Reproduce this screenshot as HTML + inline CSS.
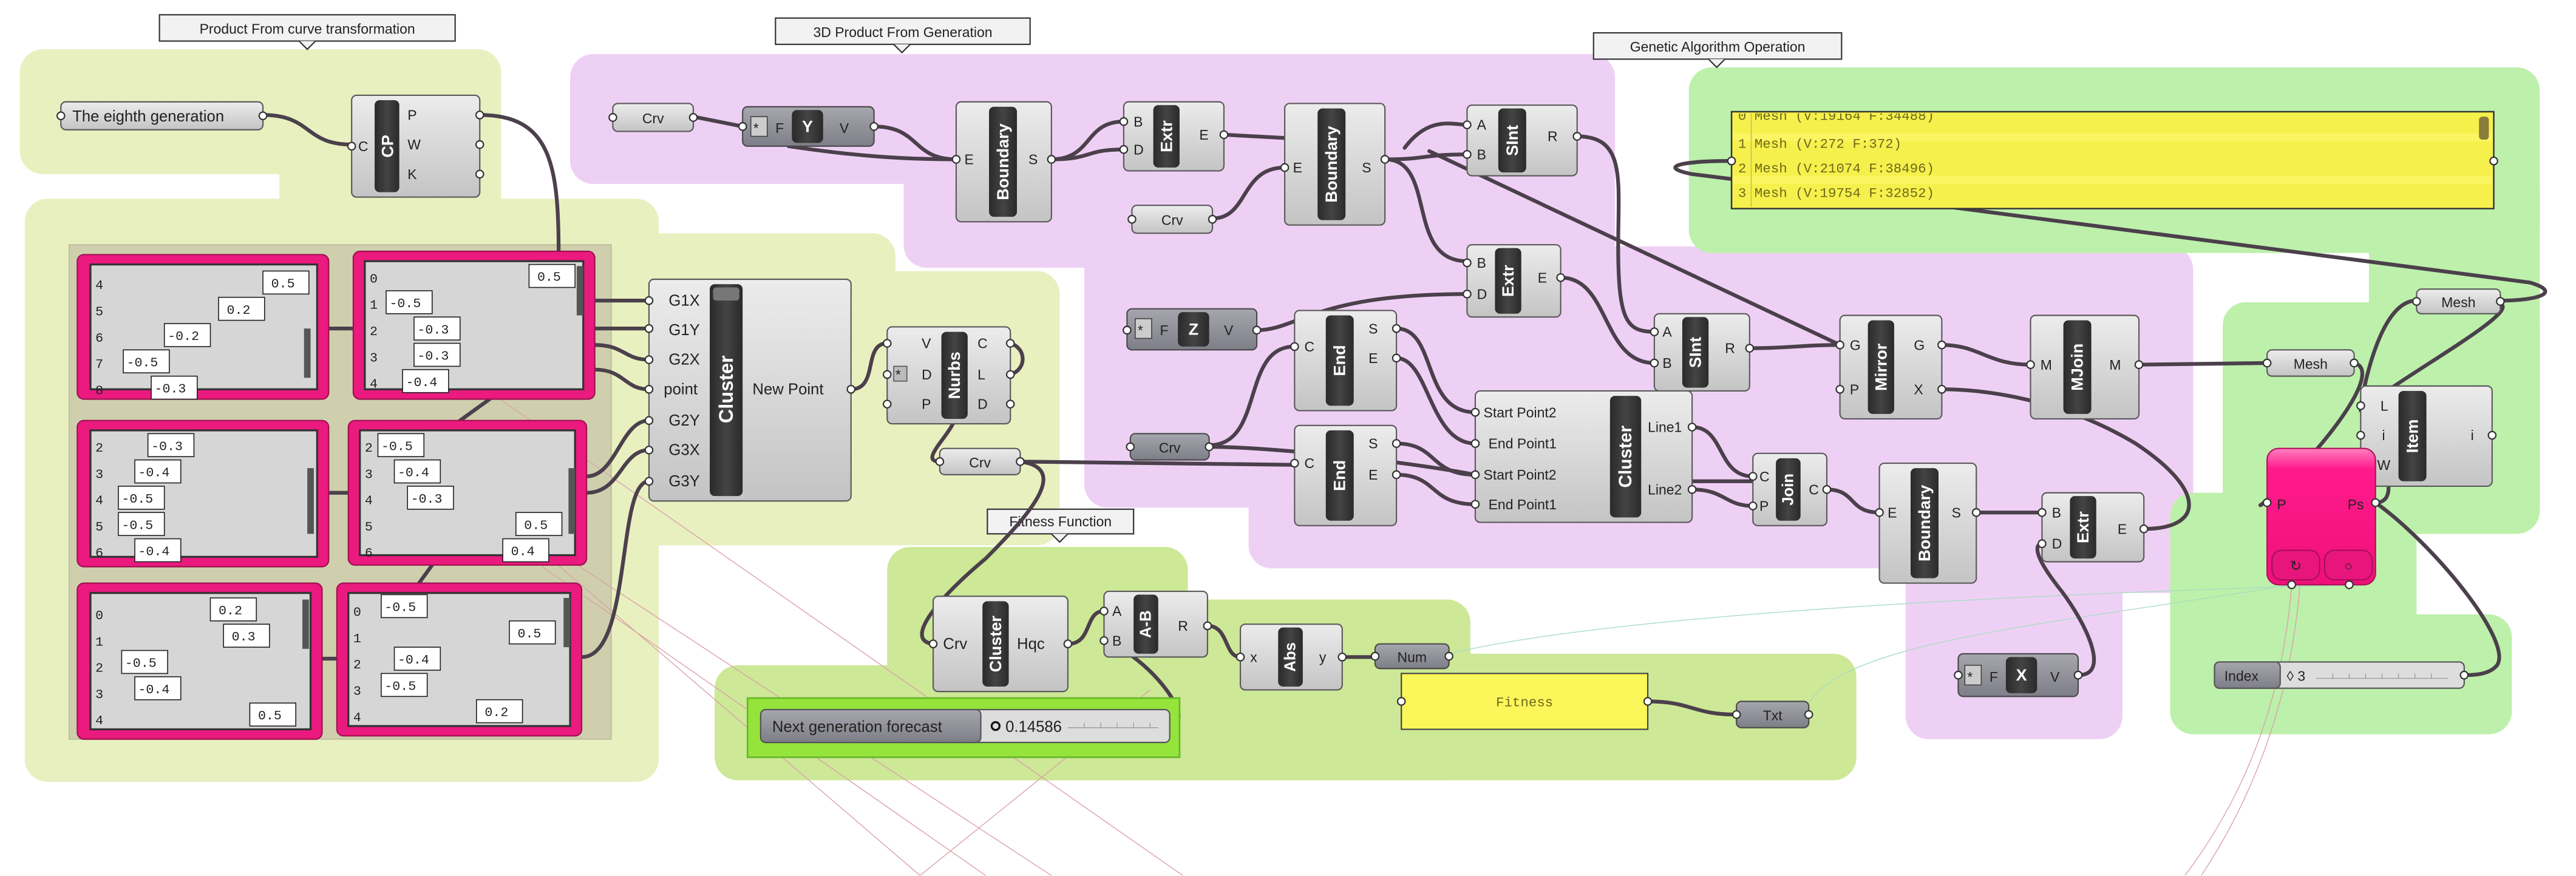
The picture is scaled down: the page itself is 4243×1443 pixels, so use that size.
<!DOCTYPE html>
<html><head><meta charset="utf-8"><style>
html,body{margin:0;padding:0;background:#fff;}
svg{display:block;}
.t{font-family:"Liberation Sans",sans-serif;font-size:8.5px;fill:#222;}
.tl{font-family:"Liberation Sans",sans-serif;font-size:9.5px;fill:#222;}
.bt{font-family:"Liberation Sans",sans-serif;font-weight:bold;fill:#fff;}
.m{font-family:"Liberation Mono",monospace;font-size:8px;fill:#222;}
.mm{font-family:"Liberation Mono",monospace;font-size:8.3px;fill:#6e6a1a;}
.n{fill:url(#gn);stroke:#5a5a5a;stroke-width:0.8;}
.d{fill:url(#gd);stroke:#4a4a4a;stroke-width:0.8;}
.bar{fill:url(#gb);}
.w{fill:none;stroke:#4b404b;stroke-width:2.3;stroke-linecap:round;}
.wi{fill:none;stroke:#a898a6;stroke-width:0.6;}
.p{fill:#fff;stroke:#333;stroke-width:0.8;}
.fr{fill:#ea1a7f;stroke:#a0104f;stroke-width:0.8;}
.in{fill:#d6d6d6;stroke:#333;stroke-width:1.2;}
.vb{fill:#fff;stroke:#222;stroke-width:0.6;}
.thin{fill:none;stroke:#d9a0a8;stroke-width:0.5;}
.thg{fill:none;stroke:#a8dcc0;stroke-width:0.5;}
</style></head><body>
<svg width="4243" height="1443" viewBox="0 0 1568 533.3" xmlns="http://www.w3.org/2000/svg">
<defs>
<linearGradient id="gn" x1="0" y1="0" x2="0" y2="1"><stop offset="0" stop-color="#ececec"/><stop offset="1" stop-color="#c4c4c4"/></linearGradient>
<linearGradient id="gd" x1="0" y1="0" x2="0" y2="1"><stop offset="0" stop-color="#a6a6ae"/><stop offset="1" stop-color="#7e7e88"/></linearGradient>
<linearGradient id="gb" x1="0" y1="0" x2="1" y2="0"><stop offset="0" stop-color="#2a2a2a"/><stop offset="0.5" stop-color="#444"/><stop offset="1" stop-color="#2a2a2a"/></linearGradient>
<linearGradient id="gp" x1="0" y1="0" x2="0" y2="1"><stop offset="0" stop-color="#ff7fc0"/><stop offset="0.15" stop-color="#ff1a8c"/><stop offset="1" stop-color="#f0107a"/></linearGradient>
</defs>

<!-- ===== GROUPS ===== -->
<g fill="#e8f0c0">
<rect x="12" y="30" width="293" height="76" rx="14"/>
<rect x="170" y="30" width="135" height="136" rx="14"/>
<rect x="15" y="121" width="386" height="355" rx="14"/>
<rect x="300" y="142" width="245" height="190" rx="14"/>
<rect x="300" y="165" width="345" height="167" rx="14"/>
</g>
<rect x="42" y="149" width="330" height="301" fill="#cfcfae" stroke="#b8b898" stroke-width="0.6"/>

<g fill="#efd0f5">
<rect x="347" y="33" width="636" height="79" rx="14"/>
<rect x="550" y="33" width="433" height="130" rx="14"/>
<rect x="660" y="150" width="675" height="159" rx="14"/>
<rect x="760" y="162" width="575" height="184" rx="14"/>
<rect x="1160" y="162" width="175" height="199" rx="14"/>
<rect x="1160" y="300" width="132" height="150" rx="14"/>
</g>

<g fill="#bdf0ab">
<rect x="1028" y="41" width="518" height="113" rx="14"/>
<rect x="1442" y="100" width="104" height="225" rx="14"/>
<rect x="1353" y="184" width="193" height="141" rx="14"/>
<rect x="1321" y="300" width="150" height="147" rx="14"/>
<rect x="1321" y="374" width="208" height="73" rx="14"/>
</g>

<g fill="#cde896">
<rect x="435" y="405" width="305" height="70" rx="14"/>
<rect x="540" y="333" width="183" height="142" rx="14"/>
<rect x="540" y="365" width="355" height="110" rx="14"/>
<rect x="540" y="398" width="590" height="77" rx="14"/>
</g>

<!-- group labels -->
<g>
<rect x="97" y="9" width="180" height="16" fill="#f2f2f2" stroke="#333" stroke-width="0.8"/>
<path d="M182,25 L187,30 L192,25" fill="#f2f2f2" stroke="#333" stroke-width="0.8"/>
<text x="187" y="20.5" text-anchor="middle" class="t">Product From curve transformation</text>
<rect x="472" y="11" width="155" height="16" fill="#f2f2f2" stroke="#333" stroke-width="0.8"/>
<path d="M544,27 L549,32 L554,27" fill="#f2f2f2" stroke="#333" stroke-width="0.8"/>
<text x="549.5" y="22.5" text-anchor="middle" class="t">3D Product From Generation</text>
<rect x="970" y="20" width="151" height="16" fill="#f2f2f2" stroke="#333" stroke-width="0.8"/>
<path d="M1040,36 L1045,41 L1050,36" fill="#f2f2f2" stroke="#333" stroke-width="0.8"/>
<text x="1045.5" y="31.5" text-anchor="middle" class="t">Genetic Algorithm Operation</text>
<rect x="601" y="310" width="89" height="15" fill="#f2f2f2" stroke="#333" stroke-width="0.8"/>
<path d="M640,325 L645,330 L650,325" fill="#f2f2f2" stroke="#333" stroke-width="0.8"/>
<text x="645.5" y="320.5" text-anchor="middle" class="t">Fitness Function</text>
</g>

<!-- thin background lines -->
<g>
<path class="thin" d="M300,240 L720,533"/>
<path class="thin" d="M330,330 L640,533"/>
<path class="thin" d="M330,345 L600,533"/>
<path class="thin" d="M300,310 L560,533"/>
<path class="thin" d="M700,420 L560,533"/>
<path class="thin" d="M1395,356 C1390,420 1370,480 1330,533"/>
<path class="thin" d="M1400,356 C1395,420 1375,480 1340,533"/>
<path class="thg" d="M1430,356 C1300,360 1000,370 882,398"/>
<path class="thg" d="M1395,356 C1250,380 1120,390 1100,430"/>
</g>

<!-- ===== WIRES ===== -->
<g class="w">
<path d="M160,70 C190,70 185,88 214,88"/>
<path d="M292,70 C335,70 340,100 340,154"/>
<path d="M200,200 L215,200"/>
<path d="M200,300 L212,300"/>
<path d="M196,401 L205,401"/>
<path d="M298,243 L280,256"/>
<path d="M263,344 L255,355"/>
<path d="M362,183 L395,183"/>
<path d="M362,200 L395,200"/>
<path d="M362,210 C380,210 380,219 395,219"/>
<path d="M362,225 C380,225 380,237 395,237"/>
<path d="M357,290 C375,290 378,256 395,256"/>
<path d="M357,300 C378,300 378,274 395,274"/>
<path d="M354,400 C385,400 375,293 395,293"/>
<path d="M518,237 C535,237 525,209 540,209"/>
<path d="M615,209 C625,212 625,225 615,228"/>
<path d="M580,258 C575,268 560,281 572,281"/>
<path d="M621,281 L788,283"/>
<path d="M621,281 C650,285 630,310 600,340 C570,365 550,390 568,392"/>
<path d="M650,392 C665,392 660,372 672,372"/>
<path d="M712,442 C730,440 700,400 672,390"/>
<path d="M735,381 C748,381 745,400 755,400"/>
<path d="M817,400 L837,400"/>
<path d="M1003,427 C1030,427 1030,435 1057,435"/>
<path d="M422,71 L452,77"/>
<path d="M532,77 C560,77 555,97 582,97"/>
<path d="M480,89 C520,95 550,97 582,97"/>
<path d="M640,97 C665,97 660,74 684,74"/>
<path d="M640,97 C665,97 660,91 684,91"/>
<path d="M745,82 L782,84"/>
<path d="M738,133 C760,133 755,102 782,102"/>
<path d="M843,97 C870,97 865,94 893,94"/>
<path d="M843,97 C875,97 855,159 893,159"/>
<path d="M855,90 C870,70 885,76 893,76"/>
<path d="M870,92 L1120,210"/>
<path d="M960,83 C990,83 985,110 985,150 C985,195 990,202 1007,202"/>
<path d="M950,169 C980,169 975,221 1007,221"/>
<path d="M765,201 C790,201 800,179 893,179"/>
<path d="M736,271 C770,271 755,211 788,211"/>
<path d="M736,272 C770,272 850,280 898,289"/>
<path d="M850,200 C875,200 865,251 898,251"/>
<path d="M850,218 C870,218 870,270 898,270"/>
<path d="M850,270 C875,270 870,289 898,289"/>
<path d="M850,289 C875,289 870,307 898,307"/>
<path d="M1030,260 C1050,260 1045,290 1067,290"/>
<path d="M1030,298 C1050,298 1050,308 1067,308"/>
<path d="M1030,293 L1067,293"/>
<path d="M1112,298 C1130,298 1125,312 1144,312"/>
<path d="M1203,312 C1225,312 1220,312 1243,312"/>
<path d="M1265,411 C1285,411 1270,380 1255,360 C1235,335 1240,331 1243,331"/>
<path d="M1305,322 C1340,322 1345,300 1300,270 C1250,240 1200,237 1182,237"/>
<path d="M1065,212 C1090,212 1095,210 1120,210"/>
<path d="M1182,210 C1205,210 1210,222 1236,222"/>
<path d="M1302,222 L1380,221"/>
<path d="M1054,98 C1020,98 1010,102 1030,106 L1110,116 L1540,172 C1560,178 1545,183 1522,183"/>
<path d="M1471,183 C1450,183 1440,230 1437,247"/>
<path d="M1522,185 C1535,190 1460,230 1437,250"/>
<path d="M1433,221 C1450,225 1420,265 1395,290 C1370,315 1375,306 1380,306"/>
<path d="M1446,306 C1465,306 1445,265 1437,265"/>
<path d="M1446,306 C1480,330 1530,390 1520,405 C1515,411 1505,411 1500,411"/>
</g>

<!-- ===== NODES ===== -->
<!-- eighth generation panel -->
<rect x="37" y="62" width="123" height="17" rx="3" class="n"/>
<text x="44" y="74" class="tl">The eighth generation</text>
<circle cx="37" cy="70.5" r="2.3" class="p"/><circle cx="160" cy="70.5" r="2.3" class="p"/>

<!-- CP -->
<rect x="214" y="58" width="78" height="62" rx="3" class="n"/>
<rect x="228" y="61" width="15" height="56" rx="3" class="bar"/>
<text transform="translate(236,89) rotate(-90)" text-anchor="middle" dominant-baseline="central" class="bt" font-size="10">CP</text>
<text x="218" y="92" class="t">C</text>
<text x="248" y="73" class="t">P</text><text x="248" y="91" class="t">W</text><text x="248" y="109" class="t">K</text>
<circle cx="214" cy="89" r="2.3" class="p"/><circle cx="292" cy="70" r="2.3" class="p"/><circle cx="292" cy="88" r="2.3" class="p"/><circle cx="292" cy="106" r="2.3" class="p"/>

<!-- list panels -->
<g>
<rect x="47" y="155" width="153" height="88" rx="4" class="fr"/><rect x="55" y="161" width="138" height="76" class="in"/>
<rect x="185" y="200" width="4" height="30" fill="#555"/>
<text x="58" y="176" class="m">4</text><text x="58" y="192" class="m">5</text><text x="58" y="208" class="m">6</text><text x="58" y="224" class="m">7</text><text x="58" y="240" class="m">8</text>
<rect x="160" y="165" width="28" height="14" class="vb"/><text x="165" y="175" class="m">0.5</text>
<rect x="133" y="181" width="28" height="14" class="vb"/><text x="138" y="191" class="m">0.2</text>
<rect x="100" y="197" width="28" height="14" class="vb"/><text x="102" y="207" class="m">-0.2</text>
<rect x="75" y="213" width="28" height="14" class="vb"/><text x="77" y="223" class="m">-0.5</text>
<rect x="92" y="229" width="28" height="14" class="vb"/><text x="94" y="239" class="m">-0.3</text>

<rect x="215" y="153" width="147" height="90" rx="4" class="fr"/><rect x="222" y="159" width="133" height="78" class="in"/>
<rect x="351" y="162" width="4" height="30" fill="#555"/>
<text x="225" y="172" class="m">0</text><text x="225" y="188" class="m">1</text><text x="225" y="204" class="m">2</text><text x="225" y="220" class="m">3</text><text x="225" y="236" class="m">4</text>
<rect x="322" y="161" width="28" height="14" class="vb"/><text x="327" y="171" class="m">0.5</text>
<rect x="235" y="177" width="28" height="14" class="vb"/><text x="237" y="187" class="m">-0.5</text>
<rect x="252" y="193" width="28" height="14" class="vb"/><text x="254" y="203" class="m">-0.3</text>
<rect x="252" y="209" width="28" height="14" class="vb"/><text x="254" y="219" class="m">-0.3</text>
<rect x="245" y="225" width="28" height="14" class="vb"/><text x="247" y="235" class="m">-0.4</text>

<rect x="47" y="256" width="153" height="89" rx="4" class="fr"/><rect x="55" y="262" width="138" height="77" class="in"/>
<rect x="187" y="285" width="4" height="40" fill="#555"/>
<text x="58" y="275" class="m">2</text><text x="58" y="291" class="m">3</text><text x="58" y="307" class="m">4</text><text x="58" y="323" class="m">5</text><text x="58" y="339" class="m">6</text>
<rect x="90" y="264" width="28" height="14" class="vb"/><text x="92" y="274" class="m">-0.3</text>
<rect x="82" y="280" width="28" height="14" class="vb"/><text x="84" y="290" class="m">-0.4</text>
<rect x="72" y="296" width="28" height="14" class="vb"/><text x="74" y="306" class="m">-0.5</text>
<rect x="72" y="312" width="28" height="14" class="vb"/><text x="74" y="322" class="m">-0.5</text>
<rect x="82" y="328" width="28" height="14" class="vb"/><text x="84" y="338" class="m">-0.4</text>

<rect x="212" y="256" width="145" height="88" rx="4" class="fr"/><rect x="219" y="262" width="131" height="76" class="in"/>
<rect x="346" y="285" width="4" height="40" fill="#555"/>
<text x="222" y="275" class="m">2</text><text x="222" y="291" class="m">3</text><text x="222" y="307" class="m">4</text><text x="222" y="323" class="m">5</text><text x="222" y="339" class="m">6</text>
<rect x="230" y="264" width="28" height="14" class="vb"/><text x="232" y="274" class="m">-0.5</text>
<rect x="240" y="280" width="28" height="14" class="vb"/><text x="242" y="290" class="m">-0.4</text>
<rect x="248" y="296" width="28" height="14" class="vb"/><text x="250" y="306" class="m">-0.3</text>
<rect x="314" y="312" width="28" height="14" class="vb"/><text x="319" y="322" class="m">0.5</text>
<rect x="306" y="328" width="28" height="14" class="vb"/><text x="311" y="338" class="m">0.4</text>

<rect x="47" y="355" width="149" height="95" rx="4" class="fr"/><rect x="55" y="361" width="134" height="83" class="in"/>
<rect x="184" y="365" width="4" height="30" fill="#555"/>
<text x="58" y="377" class="m">0</text><text x="58" y="393" class="m">1</text><text x="58" y="409" class="m">2</text><text x="58" y="425" class="m">3</text><text x="58" y="441" class="m">4</text>
<rect x="128" y="364" width="28" height="14" class="vb"/><text x="133" y="374" class="m">0.2</text>
<rect x="136" y="380" width="28" height="14" class="vb"/><text x="141" y="390" class="m">0.3</text>
<rect x="74" y="396" width="28" height="14" class="vb"/><text x="76" y="406" class="m">-0.5</text>
<rect x="82" y="412" width="28" height="14" class="vb"/><text x="84" y="422" class="m">-0.4</text>
<rect x="152" y="428" width="28" height="14" class="vb"/><text x="157" y="438" class="m">0.5</text>

<rect x="205" y="355" width="149" height="93" rx="4" class="fr"/><rect x="212" y="361" width="135" height="81" class="in"/>
<rect x="343" y="364" width="4" height="30" fill="#555"/>
<text x="215" y="375" class="m">0</text><text x="215" y="391" class="m">1</text><text x="215" y="407" class="m">2</text><text x="215" y="423" class="m">3</text><text x="215" y="439" class="m">4</text>
<rect x="232" y="362" width="28" height="14" class="vb"/><text x="234" y="372" class="m">-0.5</text>
<rect x="310" y="378" width="28" height="14" class="vb"/><text x="315" y="388" class="m">0.5</text>
<rect x="240" y="394" width="28" height="14" class="vb"/><text x="242" y="404" class="m">-0.4</text>
<rect x="232" y="410" width="28" height="14" class="vb"/><text x="234" y="420" class="m">-0.5</text>
<rect x="290" y="426" width="28" height="14" class="vb"/><text x="295" y="436" class="m">0.2</text>
</g>

<!-- Cluster 1 -->
<rect x="395" y="170" width="123" height="135" rx="3" class="n"/>
<rect x="432" y="173" width="20" height="129" rx="3" class="bar"/>
<rect x="434" y="175" width="16" height="8" rx="2" fill="#777"/>
<text transform="translate(442,237) rotate(-90)" text-anchor="middle" dominant-baseline="central" class="bt" font-size="12">Cluster</text>
<g class="tl"><text x="407" y="186">G1X</text><text x="407" y="204">G1Y</text><text x="407" y="222">G2X</text><text x="404" y="240">point</text><text x="407" y="259">G2Y</text><text x="407" y="277">G3X</text><text x="407" y="296">G3Y</text><text x="458" y="240">New Point</text></g>
<g><circle cx="395" cy="183" r="2.3" class="p"/><circle cx="395" cy="200" r="2.3" class="p"/><circle cx="395" cy="219" r="2.3" class="p"/><circle cx="395" cy="237" r="2.3" class="p"/><circle cx="395" cy="256" r="2.3" class="p"/><circle cx="395" cy="274" r="2.3" class="p"/><circle cx="395" cy="293" r="2.3" class="p"/><circle cx="518" cy="237" r="2.3" class="p"/></g>

<!-- Nurbs -->
<rect x="540" y="199" width="75" height="59" rx="3" class="n"/>
<rect x="573" y="202" width="16" height="53" rx="3" class="bar"/>
<text transform="translate(581,228.5) rotate(-90)" text-anchor="middle" dominant-baseline="central" class="bt" font-size="10">Nurbs</text>
<rect x="544" y="223" width="8" height="9" fill="#bbb" stroke="#555" stroke-width="0.6"/><text x="545" y="231" class="t" font-size="8">*</text>
<g class="t"><text x="561" y="212">V</text><text x="561" y="231">D</text><text x="561" y="249">P</text><text x="595" y="212">C</text><text x="595" y="231">L</text><text x="595" y="249">D</text></g>
<circle cx="540" cy="209" r="2.3" class="p"/><circle cx="540" cy="228" r="2.3" class="p"/><circle cx="540" cy="246" r="2.3" class="p"/><circle cx="615" cy="209" r="2.3" class="p"/><circle cx="615" cy="228" r="2.3" class="p"/><circle cx="615" cy="246" r="2.3" class="p"/>

<!-- Crv params -->
<rect x="572" y="273" width="49" height="16" rx="3" class="n"/><text x="596.5" y="284.5" text-anchor="middle" class="t">Crv</text>
<circle cx="572" cy="281" r="2.3" class="p"/><circle cx="621" cy="281" r="2.3" class="p"/>
<rect x="373" y="63" width="49" height="17" rx="3" class="n"/><text x="397.5" y="75" text-anchor="middle" class="t">Crv</text>
<circle cx="373" cy="71.5" r="2.3" class="p"/><circle cx="422" cy="71.5" r="2.3" class="p"/>
<rect x="689" y="125" width="49" height="17" rx="3" class="n"/><text x="713.5" y="137" text-anchor="middle" class="t">Crv</text>
<circle cx="689" cy="133.5" r="2.3" class="p"/><circle cx="738" cy="133.5" r="2.3" class="p"/>
<rect x="688" y="264" width="48" height="16" rx="3" class="d"/><text x="712" y="275.5" text-anchor="middle" class="t">Crv</text>
<circle cx="688" cy="272" r="2.3" class="p"/><circle cx="736" cy="272" r="2.3" class="p"/>

<!-- F Y V -->
<rect x="452" y="65" width="80" height="24" rx="3" class="d"/>
<rect x="457" y="71" width="10" height="12" fill="#ccc" stroke="#444" stroke-width="0.6"/><text x="458.5" y="81" class="t">*</text>
<text x="472" y="81" class="t">F</text><rect x="482" y="67" width="19" height="20" rx="3" class="bar"/><text x="491.5" y="77" text-anchor="middle" dominant-baseline="central" class="bt" font-size="10">Y</text>
<text x="511" y="81" class="t">V</text>
<circle cx="452" cy="77" r="2.3" class="p"/><circle cx="532" cy="77" r="2.3" class="p"/>

<!-- Boundary 1 -->
<rect x="582" y="62" width="58" height="73" rx="3" class="n"/>
<rect x="602" y="65" width="17" height="67" rx="3" class="bar"/>
<text transform="translate(610.5,98.5) rotate(-90)" text-anchor="middle" dominant-baseline="central" class="bt" font-size="10">Boundary</text>
<text x="587" y="100" class="t">E</text><text x="626" y="100" class="t">S</text>
<circle cx="582" cy="97" r="2.3" class="p"/><circle cx="640" cy="97" r="2.3" class="p"/>

<!-- Extr 1 -->
<rect x="684" y="62" width="61" height="42" rx="3" class="n"/>
<rect x="702" y="64" width="16" height="38" rx="3" class="bar"/>
<text transform="translate(710,83) rotate(-90)" text-anchor="middle" dominant-baseline="central" class="bt" font-size="10">Extr</text>
<text x="690" y="77" class="t">B</text><text x="690" y="94" class="t">D</text><text x="730" y="85" class="t">E</text>
<circle cx="684" cy="74" r="2.3" class="p"/><circle cx="684" cy="91" r="2.3" class="p"/><circle cx="745" cy="82" r="2.3" class="p"/>

<!-- Boundary 2 -->
<rect x="782" y="63" width="61" height="74" rx="3" class="n"/>
<rect x="802" y="66" width="17" height="68" rx="3" class="bar"/>
<text transform="translate(810.5,100) rotate(-90)" text-anchor="middle" dominant-baseline="central" class="bt" font-size="10">Boundary</text>
<text x="787" y="105" class="t">E</text><text x="829" y="105" class="t">S</text>
<circle cx="782" cy="102" r="2.3" class="p"/><circle cx="843" cy="97" r="2.3" class="p"/>

<!-- SInt 1 -->
<rect x="893" y="64" width="67" height="43" rx="3" class="n"/>
<rect x="912" y="66" width="17" height="39" rx="3" class="bar"/>
<text transform="translate(920.5,85.5) rotate(-90)" text-anchor="middle" dominant-baseline="central" class="bt" font-size="10">SInt</text>
<text x="899" y="79" class="t">A</text><text x="899" y="97" class="t">B</text><text x="942" y="86" class="t">R</text>
<circle cx="893" cy="76" r="2.3" class="p"/><circle cx="893" cy="94" r="2.3" class="p"/><circle cx="960" cy="83" r="2.3" class="p"/>

<!-- Extr 2 -->
<rect x="893" y="149" width="57" height="44" rx="3" class="n"/>
<rect x="910" y="151" width="16" height="40" rx="3" class="bar"/>
<text transform="translate(918,171) rotate(-90)" text-anchor="middle" dominant-baseline="central" class="bt" font-size="10">Extr</text>
<text x="899" y="163" class="t">B</text><text x="899" y="182" class="t">D</text><text x="936" y="172" class="t">E</text>
<circle cx="893" cy="160" r="2.3" class="p"/><circle cx="893" cy="179" r="2.3" class="p"/><circle cx="950" cy="169" r="2.3" class="p"/>

<!-- F Z V -->
<rect x="686" y="188" width="79" height="25" rx="3" class="d"/>
<rect x="691" y="194" width="10" height="12" fill="#ccc" stroke="#444" stroke-width="0.6"/><text x="692.5" y="204" class="t">*</text>
<text x="706" y="204" class="t">F</text><rect x="717" y="190" width="19" height="21" rx="3" class="bar"/><text x="726.5" y="200.5" text-anchor="middle" dominant-baseline="central" class="bt" font-size="10">Z</text>
<text x="745" y="204" class="t">V</text>
<circle cx="686" cy="201" r="2.3" class="p"/><circle cx="765" cy="201" r="2.3" class="p"/>

<!-- End 1 / End 2 -->
<rect x="788" y="189" width="62" height="61" rx="3" class="n"/>
<rect x="807" y="192" width="17" height="55" rx="3" class="bar"/>
<text transform="translate(815.5,219.5) rotate(-90)" text-anchor="middle" dominant-baseline="central" class="bt" font-size="10">End</text>
<text x="794" y="214" class="t">C</text><text x="833" y="203" class="t">S</text><text x="833" y="221" class="t">E</text>
<circle cx="788" cy="211" r="2.3" class="p"/><circle cx="850" cy="200" r="2.3" class="p"/><circle cx="850" cy="218" r="2.3" class="p"/>
<rect x="788" y="259" width="62" height="61" rx="3" class="n"/>
<rect x="807" y="262" width="17" height="55" rx="3" class="bar"/>
<text transform="translate(815.5,289.5) rotate(-90)" text-anchor="middle" dominant-baseline="central" class="bt" font-size="10">End</text>
<text x="794" y="285" class="t">C</text><text x="833" y="273" class="t">S</text><text x="833" y="292" class="t">E</text>
<circle cx="788" cy="282" r="2.3" class="p"/><circle cx="850" cy="270" r="2.3" class="p"/><circle cx="850" cy="289" r="2.3" class="p"/>

<!-- Cluster 2 -->
<rect x="898" y="238" width="132" height="80" rx="3" class="n"/>
<rect x="980" y="241" width="19" height="74" rx="3" class="bar"/>
<text transform="translate(989.5,278) rotate(-90)" text-anchor="middle" dominant-baseline="central" class="bt" font-size="11">Cluster</text>
<g class="t" font-size="9"><text x="903" y="254">Start Point2</text><text x="906" y="273">End Point1</text><text x="903" y="292">Start Point2</text><text x="906" y="310">End Point1</text><text x="1003" y="263">Line1</text><text x="1003" y="301">Line2</text></g>
<circle cx="898" cy="251" r="2.3" class="p"/><circle cx="898" cy="270" r="2.3" class="p"/><circle cx="898" cy="289" r="2.3" class="p"/><circle cx="898" cy="307" r="2.3" class="p"/><circle cx="1030" cy="260" r="2.3" class="p"/><circle cx="1030" cy="298" r="2.3" class="p"/>

<!-- SInt 2 -->
<rect x="1007" y="191" width="58" height="47" rx="3" class="n"/>
<rect x="1024" y="193" width="16" height="43" rx="3" class="bar"/>
<text transform="translate(1032,214.5) rotate(-90)" text-anchor="middle" dominant-baseline="central" class="bt" font-size="10">SInt</text>
<text x="1012" y="205" class="t">A</text><text x="1012" y="224" class="t">B</text><text x="1050" y="215" class="t">R</text>
<circle cx="1007" cy="202" r="2.3" class="p"/><circle cx="1007" cy="221" r="2.3" class="p"/><circle cx="1065" cy="212" r="2.3" class="p"/>

<!-- Mirror -->
<rect x="1120" y="192" width="62" height="63" rx="3" class="n"/>
<rect x="1137" y="195" width="16" height="57" rx="3" class="bar"/>
<text transform="translate(1145,223.5) rotate(-90)" text-anchor="middle" dominant-baseline="central" class="bt" font-size="10">Mirror</text>
<text x="1126" y="213" class="t">G</text><text x="1126" y="240" class="t">P</text><text x="1165" y="213" class="t">G</text><text x="1165" y="240" class="t">X</text>
<circle cx="1120" cy="210" r="2.3" class="p"/><circle cx="1120" cy="237" r="2.3" class="p"/><circle cx="1182" cy="210" r="2.3" class="p"/><circle cx="1182" cy="237" r="2.3" class="p"/>

<!-- MJoin -->
<rect x="1236" y="192" width="66" height="63" rx="3" class="n"/>
<rect x="1256" y="195" width="17" height="57" rx="3" class="bar"/>
<text transform="translate(1264.5,223.5) rotate(-90)" text-anchor="middle" dominant-baseline="central" class="bt" font-size="10">MJoin</text>
<text x="1242" y="225" class="t">M</text><text x="1284" y="225" class="t">M</text>
<circle cx="1236" cy="222" r="2.3" class="p"/><circle cx="1302" cy="222" r="2.3" class="p"/>

<!-- Join -->
<rect x="1067" y="276" width="45" height="44" rx="3" class="n"/>
<rect x="1081" y="279" width="15" height="38" rx="3" class="bar"/>
<text transform="translate(1088.5,298) rotate(-90)" text-anchor="middle" dominant-baseline="central" class="bt" font-size="9.5">Join</text>
<text x="1071" y="293" class="t">C</text><text x="1071" y="311" class="t">P</text><text x="1101" y="301" class="t">C</text>
<circle cx="1067" cy="290" r="2.3" class="p"/><circle cx="1067" cy="308" r="2.3" class="p"/><circle cx="1112" cy="298" r="2.3" class="p"/>

<!-- Boundary 3 -->
<rect x="1144" y="282" width="59" height="73" rx="3" class="n"/>
<rect x="1163" y="285" width="17" height="67" rx="3" class="bar"/>
<text transform="translate(1171.5,318.5) rotate(-90)" text-anchor="middle" dominant-baseline="central" class="bt" font-size="10">Boundary</text>
<text x="1149" y="315" class="t">E</text><text x="1188" y="315" class="t">S</text>
<circle cx="1144" cy="312" r="2.3" class="p"/><circle cx="1203" cy="312" r="2.3" class="p"/>

<!-- Extr 3 -->
<rect x="1243" y="300" width="62" height="42" rx="3" class="n"/>
<rect x="1260" y="302" width="16" height="38" rx="3" class="bar"/>
<text transform="translate(1268,321) rotate(-90)" text-anchor="middle" dominant-baseline="central" class="bt" font-size="10">Extr</text>
<text x="1249" y="315" class="t">B</text><text x="1249" y="334" class="t">D</text><text x="1289" y="325" class="t">E</text>
<circle cx="1243" cy="312" r="2.3" class="p"/><circle cx="1243" cy="331" r="2.3" class="p"/><circle cx="1305" cy="322" r="2.3" class="p"/>

<!-- F X V -->
<rect x="1192" y="398" width="73" height="26" rx="3" class="d"/>
<rect x="1196" y="405" width="10" height="12" fill="#ccc" stroke="#444" stroke-width="0.6"/><text x="1197.5" y="415" class="t">*</text>
<text x="1211" y="415" class="t">F</text><rect x="1221" y="400" width="19" height="22" rx="3" class="bar"/><text x="1230.5" y="411" text-anchor="middle" dominant-baseline="central" class="bt" font-size="10">X</text>
<text x="1248" y="415" class="t">V</text>
<circle cx="1192" cy="411" r="2.3" class="p"/><circle cx="1265" cy="411" r="2.3" class="p"/>

<!-- Fitness cluster -->
<rect x="568" y="363" width="82" height="58" rx="3" class="n"/>
<rect x="598" y="366" width="16" height="52" rx="3" class="bar"/>
<text transform="translate(606,392) rotate(-90)" text-anchor="middle" dominant-baseline="central" class="bt" font-size="10">Cluster</text>
<text x="574" y="395" class="tl">Crv</text><text x="619" y="395" class="tl">Hqc</text>
<circle cx="568" cy="392" r="2.3" class="p"/><circle cx="650" cy="392" r="2.3" class="p"/>

<!-- A-B -->
<rect x="672" y="360" width="63" height="40" rx="3" class="n"/>
<rect x="690" y="362" width="15" height="36" rx="3" class="bar"/>
<text transform="translate(697.5,380) rotate(-90)" text-anchor="middle" dominant-baseline="central" class="bt" font-size="9.5">A-B</text>
<text x="677" y="375" class="t">A</text><text x="677" y="393" class="t">B</text><text x="717" y="384" class="t">R</text>
<circle cx="672" cy="372" r="2.3" class="p"/><circle cx="672" cy="390" r="2.3" class="p"/><circle cx="735" cy="381" r="2.3" class="p"/>

<!-- Abs -->
<rect x="755" y="380" width="62" height="40" rx="3" class="n"/>
<rect x="778" y="382" width="15" height="36" rx="3" class="bar"/>
<text transform="translate(785.5,400) rotate(-90)" text-anchor="middle" dominant-baseline="central" class="bt" font-size="9.5">Abs</text>
<text x="761" y="403" class="t">x</text><text x="803" y="403" class="t">y</text>
<circle cx="755" cy="400" r="2.3" class="p"/><circle cx="817" cy="400" r="2.3" class="p"/>

<!-- Num -->
<rect x="837" y="392" width="45" height="15" rx="3" class="d"/><text x="859.5" y="403" text-anchor="middle" class="t">Num</text>
<circle cx="837" cy="399.5" r="2.3" class="p"/><circle cx="882" cy="399.5" r="2.3" class="p"/>

<!-- Fitness panel -->
<rect x="853" y="410" width="150" height="34" fill="#fbf65a" stroke="#444" stroke-width="0.8"/>
<text x="928" y="430" text-anchor="middle" class="mm">Fitness</text>
<circle cx="853" cy="427" r="2.3" class="p"/><circle cx="1003" cy="427" r="2.3" class="p"/>

<!-- Txt -->
<rect x="1057" y="427" width="44" height="16" rx="3" class="d"/><text x="1079" y="438.5" text-anchor="middle" class="t">Txt</text>
<circle cx="1057" cy="435" r="2.3" class="p"/><circle cx="1101" cy="435" r="2.3" class="p"/>

<!-- Slider -->
<rect x="455" y="425" width="263" height="36" fill="#94e43c" stroke="#68b82a" stroke-width="1"/>
<rect x="463" y="432" width="249" height="20" rx="3" fill="#ddd" stroke="#555" stroke-width="0.8"/>
<rect x="463" y="432" width="134" height="20" rx="3" fill="url(#gd)" stroke="#555" stroke-width="0.8"/>
<text x="470" y="445.5" class="tl">Next generation forecast</text>
<circle cx="606" cy="442" r="2.4" fill="none" stroke="#111" stroke-width="1.2"/>
<text x="612" y="445.5" class="tl">0.14586</text>
<path d="M650,443 L705,443 M660,440v3 M670,440v3 M680,440v3 M690,440v3 M700,440v3" stroke="#999" stroke-width="0.5"/>

<!-- Mesh list -->
<rect x="1054" y="68" width="464" height="59" fill="#f6f04c" stroke="#333" stroke-width="0.9"/>
<rect x="1055" y="81" width="462" height="5" fill="#fff870" opacity="0.6"/>
<rect x="1055" y="107" width="462" height="5" fill="#fff870" opacity="0.6"/>
<line x1="1066" y1="69" x2="1066" y2="126" stroke="#c8c050" stroke-width="0.6"/>
<rect x="1509" y="71" width="6" height="14" rx="2" fill="#8a7d3a"/>
<clipPath id="cl"><rect x="1055" y="69" width="460" height="57"/></clipPath>
<g clip-path="url(#cl)" class="mm">
<text x="1058" y="73">0 Mesh (V:19164  F:34488)</text>
<text x="1058" y="90">1 Mesh (V:272   F:372)</text>
<text x="1058" y="105">2 Mesh (V:21074  F:38496)</text>
<text x="1058" y="120">3 Mesh (V:19754  F:32852)</text>
</g>
<circle cx="1054" cy="98" r="2.3" class="p"/><circle cx="1518" cy="98" r="2.3" class="p"/>

<!-- Mesh params -->
<rect x="1471" y="176" width="51" height="15" rx="3" class="n"/><text x="1496.5" y="187" text-anchor="middle" class="t">Mesh</text>
<circle cx="1471" cy="183.5" r="2.3" class="p"/><circle cx="1522" cy="183.5" r="2.3" class="p"/>
<rect x="1380" y="213" width="53" height="16" rx="3" class="n"/><text x="1406.5" y="224.5" text-anchor="middle" class="t">Mesh</text>
<circle cx="1380" cy="221" r="2.3" class="p"/><circle cx="1433" cy="221" r="2.3" class="p"/>

<!-- Item -->
<rect x="1437" y="235" width="80" height="61" rx="3" class="n"/>
<rect x="1460" y="238" width="17" height="55" rx="3" class="bar"/>
<text transform="translate(1468.5,265.5) rotate(-90)" text-anchor="middle" dominant-baseline="central" class="bt" font-size="10">Item</text>
<text x="1449" y="250" class="t">L</text><text x="1450" y="268" class="t">i</text><text x="1447" y="286" class="t">W</text><text x="1504" y="268" class="t">i</text>
<circle cx="1437" cy="247" r="2.3" class="p"/><circle cx="1437" cy="265" r="2.3" class="p"/><circle cx="1437" cy="283" r="2.3" class="p"/><circle cx="1517" cy="265" r="2.3" class="p"/>

<!-- Galapagos -->
<rect x="1380" y="273" width="66" height="83" rx="7" fill="url(#gp)" stroke="#b0105a" stroke-width="0.8"/>
<text x="1386" y="310" class="t">P</text><text x="1429" y="310" class="t">Ps</text>
<rect x="1383" y="335" width="29" height="18" rx="6" fill="#e8157c" stroke="#a00e55" stroke-width="0.7"/>
<rect x="1415" y="335" width="29" height="18" rx="6" fill="#e8157c" stroke="#a00e55" stroke-width="0.7"/>
<text x="1397.5" y="347.5" text-anchor="middle" class="t" font-size="9">↻</text>
<text x="1429.5" y="347.5" text-anchor="middle" class="t" font-size="9">○</text>
<circle cx="1380" cy="306" r="2.3" class="p"/><circle cx="1446" cy="306" r="2.3" class="p"/>
<circle cx="1395" cy="356" r="2.3" class="p"/><circle cx="1430" cy="356" r="2.3" class="p"/>

<!-- Index slider -->
<rect x="1348" y="403" width="152" height="16" rx="3" fill="#ddd" stroke="#555" stroke-width="0.8"/>
<rect x="1348" y="403" width="40" height="16" rx="3" fill="url(#gd)" stroke="#555" stroke-width="0.8"/>
<text x="1354" y="414.5" class="t">Index</text>
<text x="1392" y="414.5" class="t">◊ 3</text>
<path d="M1410,413 L1490,413 M1420,410v3 M1430,410v3 M1440,410v3 M1450,410v3 M1460,410v3 M1470,410v3 M1480,410v3" stroke="#999" stroke-width="0.5"/>
<circle cx="1500" cy="411" r="2.3" class="p"/>
</svg>
</body></html>
